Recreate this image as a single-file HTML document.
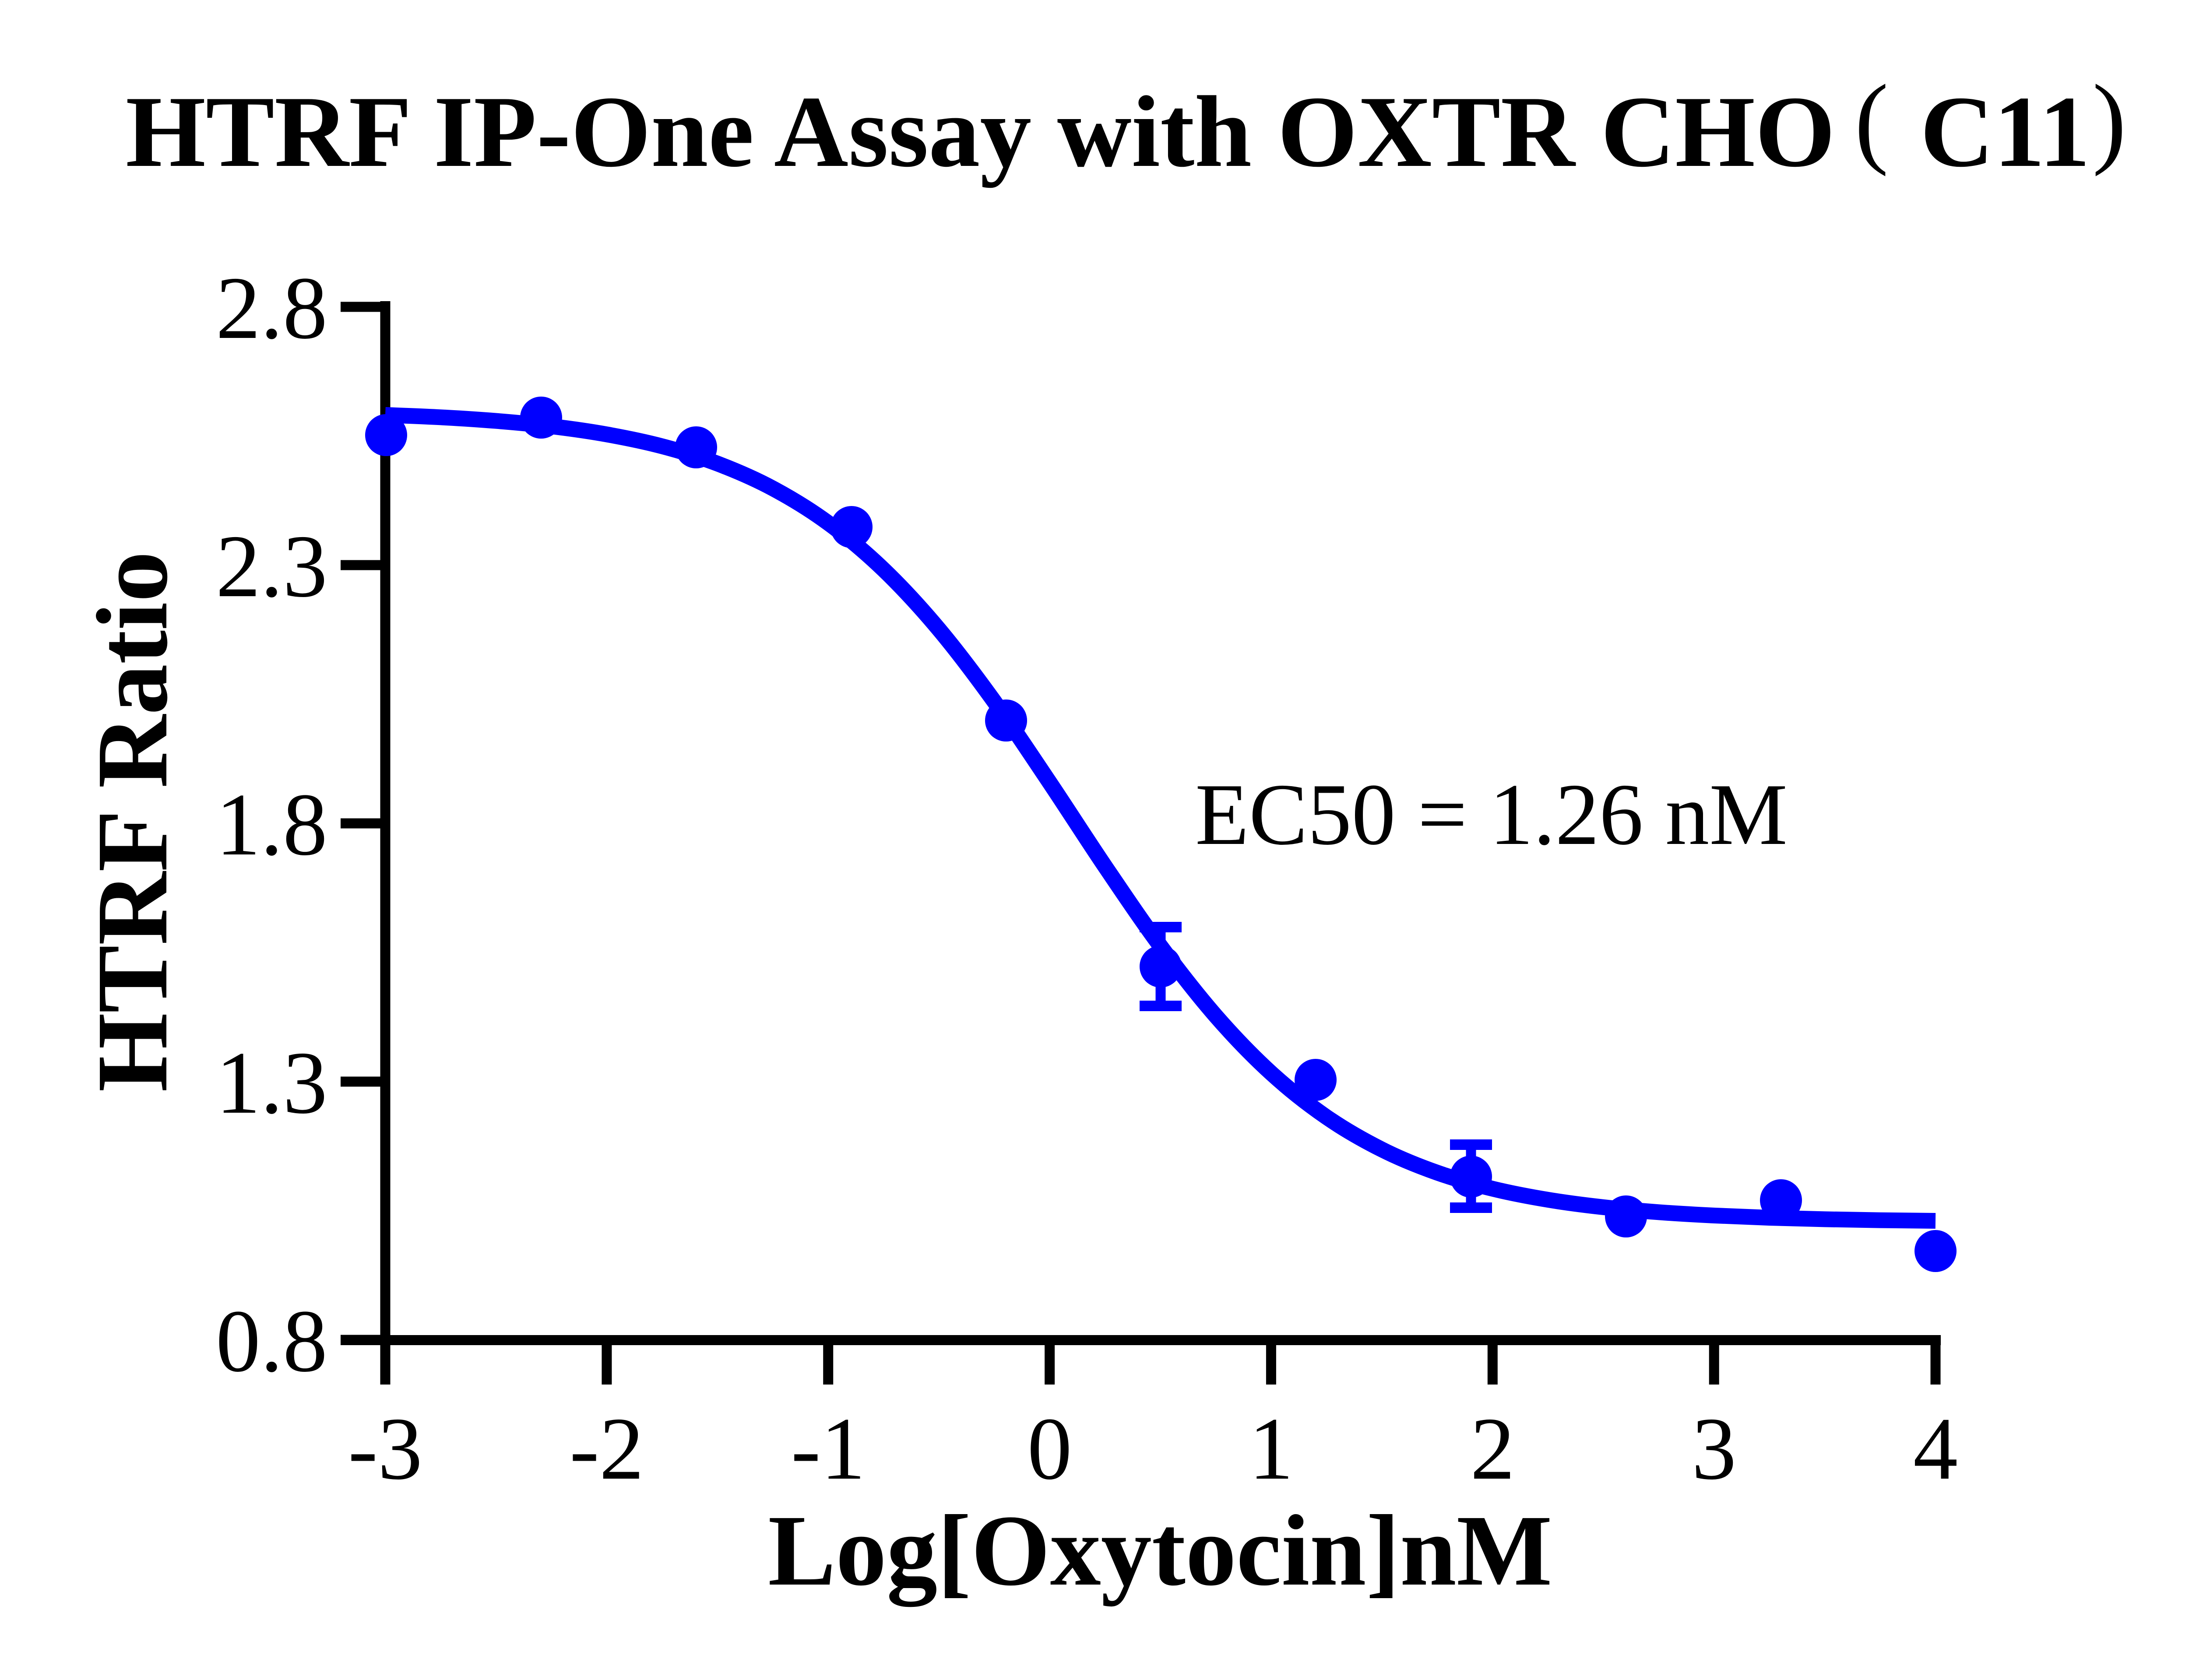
<!DOCTYPE html>
<html>
<head>
<meta charset="utf-8">
<style>
  html, body { margin: 0; padding: 0; background: #ffffff; }
  body { width: 5174px; height: 3838px; overflow: hidden; }
  svg { display: block; }
  text { font-family: "Liberation Serif", "Times New Roman", serif; fill: #000; }
  .b { font-weight: bold; }
</style>
</head>
<body>
<svg width="5174" height="3838" viewBox="0 0 5174 3838" xmlns="http://www.w3.org/2000/svg">
  <rect x="0" y="0" width="5174" height="3838" fill="#ffffff"/>

  <!-- Title -->
  <text class="b" x="287" y="379" font-size="233" textLength="3905" lengthAdjust="spacingAndGlyphs">HTRF IP-One Assay with OXTR CHO</text>
  <text x="4275" y="353" font-size="233" text-anchor="middle">(</text>
  <text class="b" x="4386" y="379" font-size="233" textLength="388" lengthAdjust="spacingAndGlyphs">C11</text>
  <text x="4818" y="353" font-size="233" text-anchor="middle">)</text>

  <!-- Y axis line -->
  <rect x="868.5" y="688" width="23" height="2475" fill="#000"/>
  <!-- Y ticks -->
  <rect x="778" y="689.5" width="113" height="23" fill="#000"/>
  <rect x="778" y="1279.5" width="113" height="23" fill="#000"/>
  <rect x="778" y="1869.5" width="113" height="23" fill="#000"/>
  <rect x="778" y="2459.5" width="113" height="23" fill="#000"/>
  <rect x="778" y="3049.5" width="113" height="23" fill="#000"/>

  <!-- X axis line -->
  <rect x="778" y="3050" width="3655" height="23" fill="#000"/>
  <!-- X ticks -->
  <rect x="868.5" y="3050" width="23" height="113" fill="#000"/>
  <rect x="1374.4" y="3050" width="23" height="113" fill="#000"/>
  <rect x="1880.2" y="3050" width="23" height="113" fill="#000"/>
  <rect x="2386.1" y="3050" width="23" height="113" fill="#000"/>
  <rect x="2891.9" y="3050" width="23" height="113" fill="#000"/>
  <rect x="3397.8" y="3050" width="23" height="113" fill="#000"/>
  <rect x="3903.7" y="3050" width="23" height="113" fill="#000"/>
  <rect x="4409.5" y="3050" width="23" height="113" fill="#000"/>

  <!-- Y tick labels -->
  <g font-size="204" text-anchor="end">
    <text x="748" y="772">2.8</text>
    <text x="748" y="1362">2.3</text>
    <text x="748" y="1952">1.8</text>
    <text x="748" y="2542">1.3</text>
    <text x="748" y="3132">0.8</text>
  </g>

  <!-- X tick labels -->
  <g font-size="204" text-anchor="middle">
    <text x="880" y="3378">-3</text>
    <text x="1385.9" y="3378">-2</text>
    <text x="1891.7" y="3378">-1</text>
    <text x="2397.6" y="3378">0</text>
    <text x="2903.4" y="3378">1</text>
    <text x="3409.3" y="3378">2</text>
    <text x="3915.2" y="3378">3</text>
    <text x="4421" y="3378">4</text>
  </g>

  <!-- Axis titles -->
  <text class="b" x="2650" y="3620" font-size="232" text-anchor="middle">Log[Oxytocin]nM</text>
  <text class="b" font-size="232" text-anchor="middle" transform="translate(380,1877) rotate(-90)">HTRF Ratio</text>

  <!-- EC50 annotation -->
  <text x="2730" y="1928" font-size="201">EC50 = 1.26 nM</text>

  <!-- Fitted curve (Catmull-Rom smoothed) -->
  <path fill="none" stroke="#0000ff" stroke-width="36" stroke-linejoin="round" stroke-linecap="butt"
    d="M880,947.9
       C922.2,949.7 964.4,951.0 1006.5,953.3
       C1048.7,955.6 1090.8,958.2 1132.9,961.6
       C1175.1,965.0 1217.3,968.8 1259.4,973.9
       C1301.6,979.0 1343.8,984.8 1385.9,992.4
       C1428.1,1000.0 1470.2,1008.4 1512.3,1019.5
       C1554.5,1030.6 1596.7,1043.1 1638.8,1059.1
       C1681.0,1075.2 1723.2,1093.2 1765.3,1115.8
       C1807.5,1138.4 1849.6,1163.9 1891.7,1194.8
       C1933.9,1225.7 1976.1,1260.7 2018.2,1301.2
       C2060.4,1341.7 2102.6,1387.6 2144.7,1437.8
       C2186.9,1488.1 2229.0,1544.4 2271.1,1602.7
       C2313.3,1661.0 2355.5,1725.1 2397.6,1787.8
       C2439.8,1850.6 2481.9,1917.0 2524.0,1979.2
       C2566.2,2041.4 2608.4,2104.3 2650.5,2161.2
       C2692.7,2218.2 2734.9,2272.5 2777.0,2320.9
       C2819.2,2369.3 2861.3,2412.9 2903.4,2451.4
       C2945.6,2489.9 2987.8,2522.9 3029.9,2552.0
       C3072.1,2581.1 3114.3,2604.9 3156.4,2626.1
       C3198.6,2647.3 3240.7,2664.1 3282.8,2679.0
       C3325.0,2693.9 3367.2,2705.4 3409.3,2715.7
       C3451.5,2726.0 3493.7,2733.9 3535.8,2740.9
       C3578.0,2747.9 3620.1,2753.2 3662.2,2757.9
       C3704.4,2762.6 3746.6,2766.1 3788.7,2769.3
       C3830.9,2772.5 3873.1,2774.8 3915.2,2776.9
       C3957.4,2779.0 3999.5,2780.6 4041.6,2782.0
       C4083.8,2783.4 4126.0,2784.5 4168.1,2785.4
       C4210.3,2786.3 4252.5,2787.0 4294.6,2787.6
       C4336.8,2788.2 4378.9,2788.5 4421.0,2789.0"/>

  <!-- Error bars -->
  <g fill="#0000ff">
    <rect x="2639.5" y="2118" width="23" height="180"/>
    <rect x="2603" y="2106" width="96" height="24"/>
    <rect x="2603" y="2286" width="96" height="24"/>

    <rect x="3348.5" y="2615" width="23" height="144"/>
    <rect x="3312" y="2603" width="96" height="24"/>
    <rect x="3312" y="2747" width="96" height="24"/>
  </g>

  <!-- Data points -->
  <g fill="#0000ff">
    <circle cx="882" cy="994" r="48"/>
    <circle cx="1236" cy="954" r="48"/>
    <circle cx="1590" cy="1022" r="48"/>
    <circle cx="1945" cy="1204" r="48"/>
    <circle cx="2298" cy="1646" r="48"/>
    <circle cx="2651" cy="2208" r="48"/>
    <circle cx="3005" cy="2467" r="48"/>
    <circle cx="3360" cy="2688" r="48"/>
    <circle cx="3714" cy="2779" r="48"/>
    <circle cx="4068" cy="2742" r="48"/>
    <circle cx="4421" cy="2858" r="48"/>
  </g>
</svg>
</body>
</html>
